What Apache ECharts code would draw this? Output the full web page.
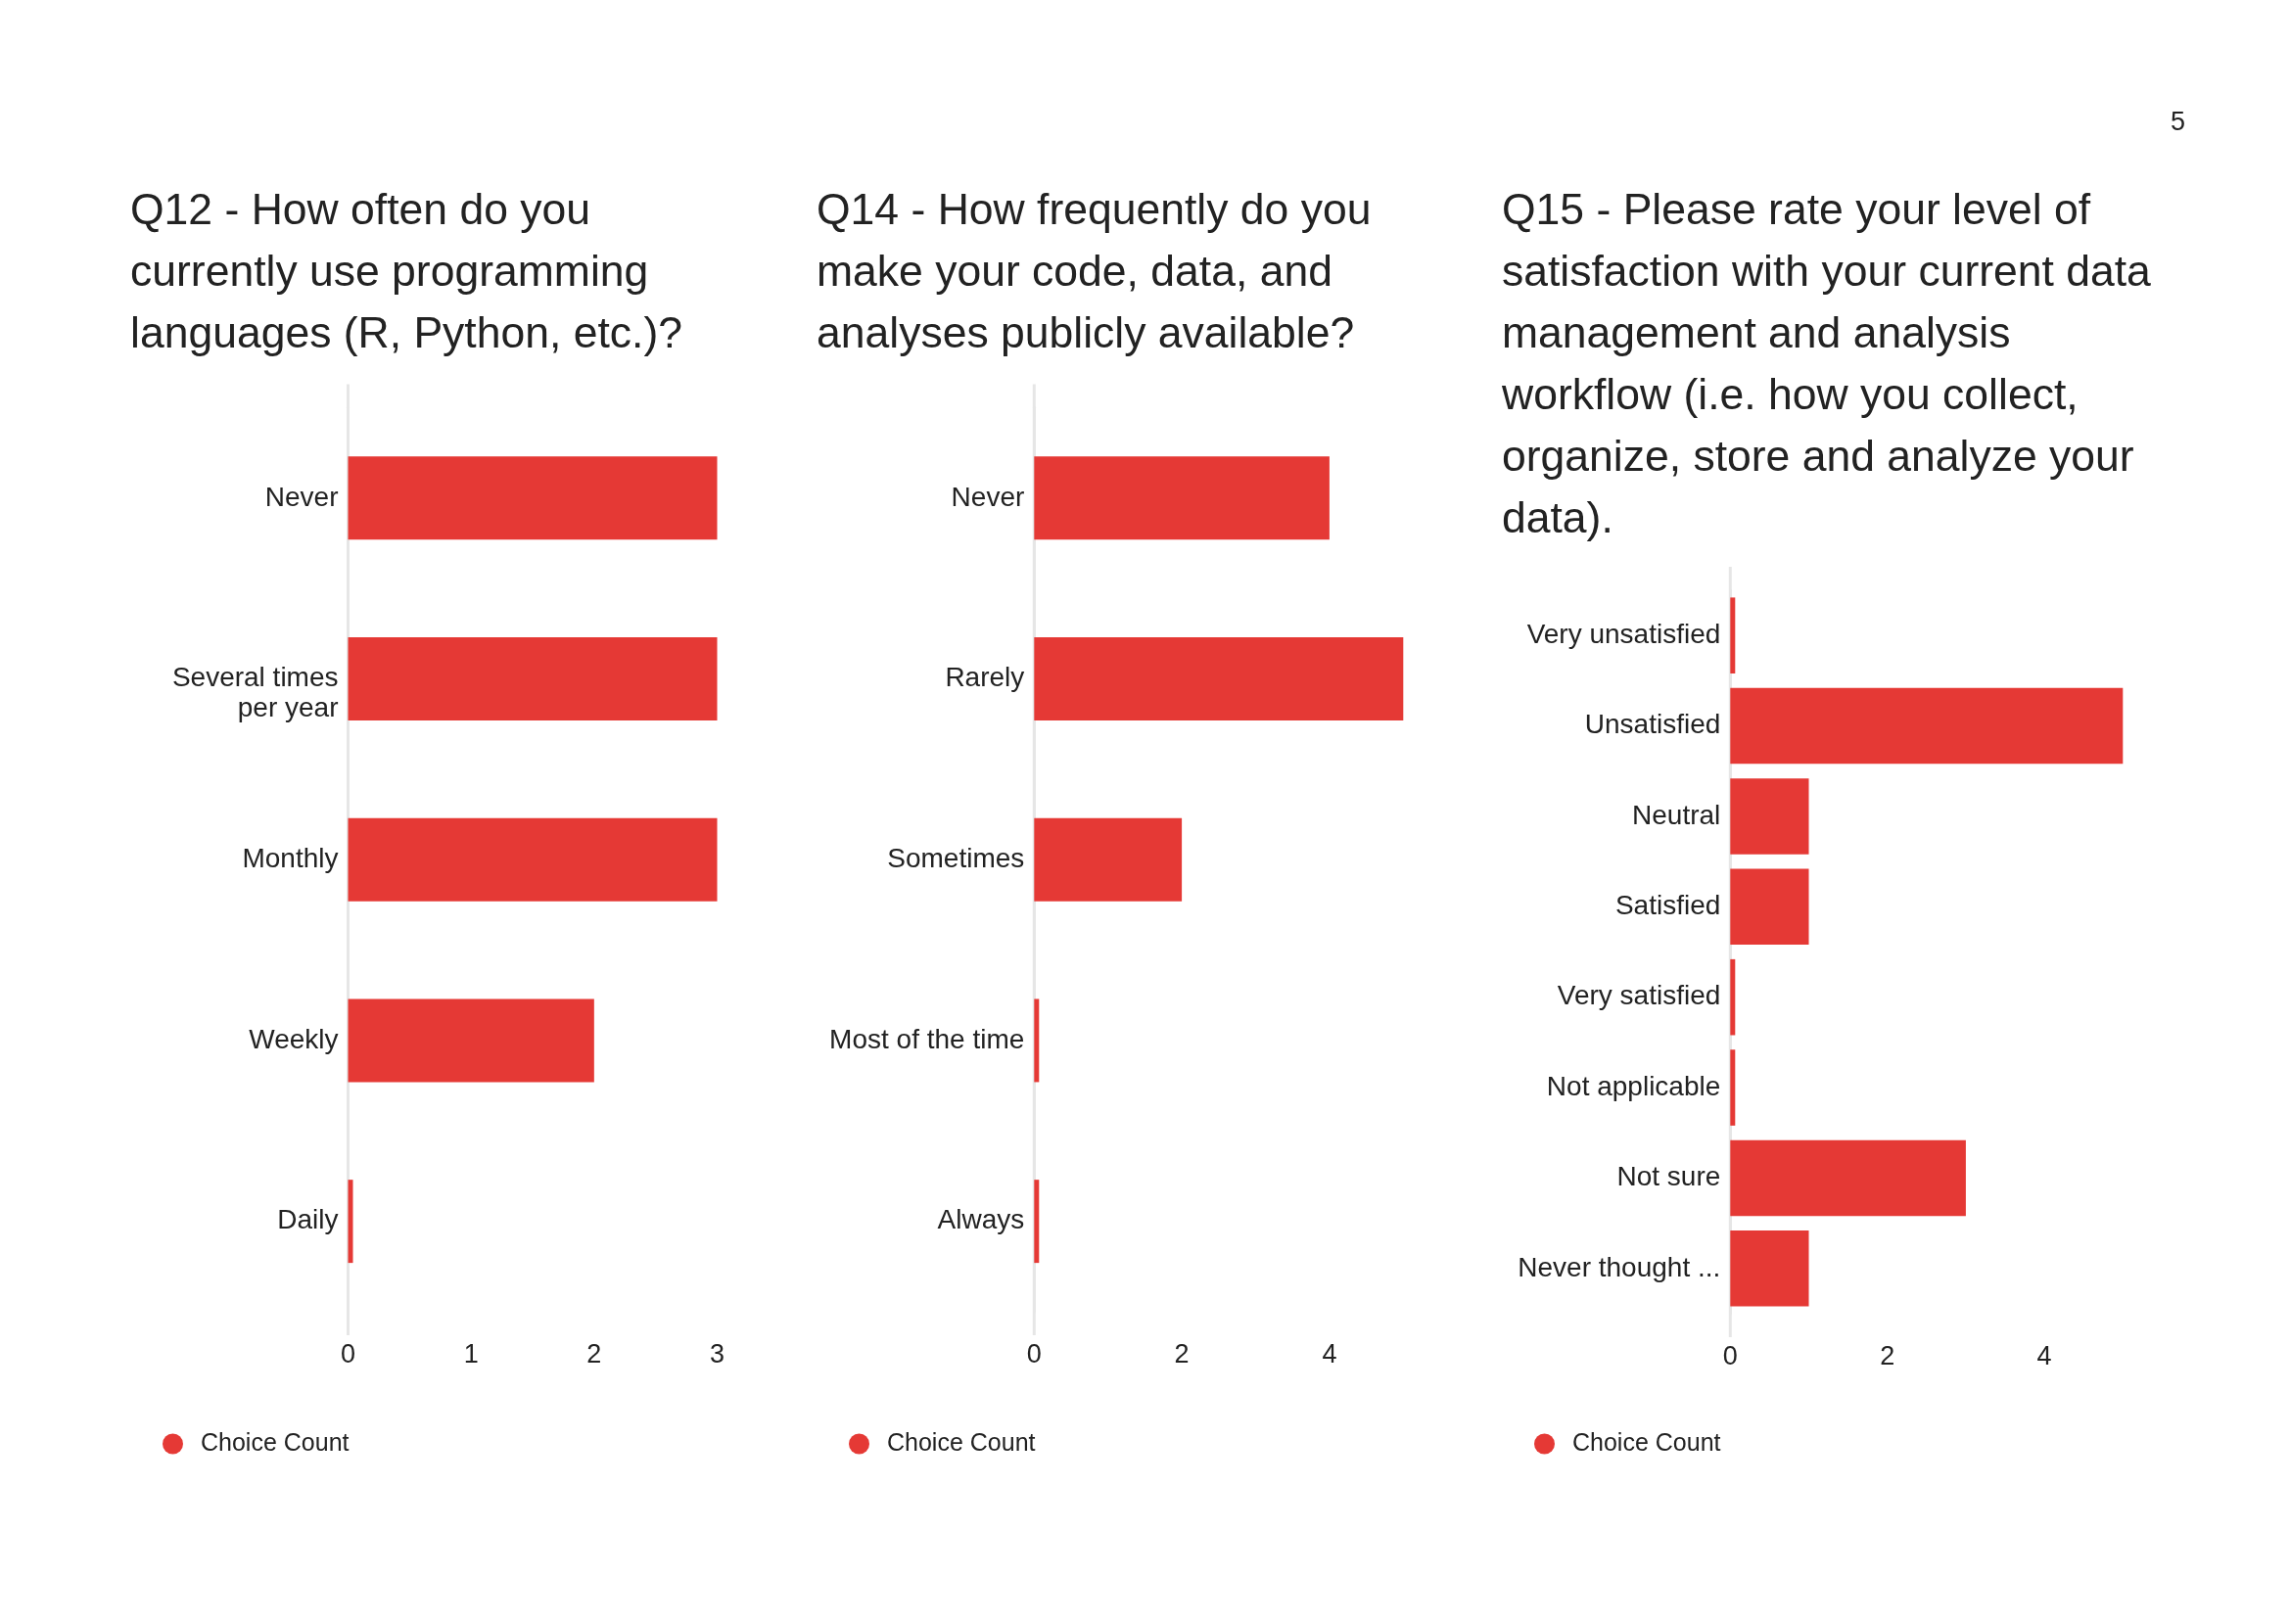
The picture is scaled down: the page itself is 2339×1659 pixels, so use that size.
<!DOCTYPE html>
<html>
<head>
<meta charset="utf-8">
<script src="https://cdn.jsdelivr.net/npm/echarts@6/dist/echarts.min.js"></script>
<style>
html,body{margin:0;padding:0;background:#fff;}
#chart{width:2339px;height:1659px;}
</style>
</head>
<body>
<div id="chart"></div>
<script>
// ---------- data ----------
const pageNumber = '5';
const seriesName = 'Choice Count';

const q12Title = 'Q12 - How often do you\ncurrently use programming\nlanguages (R, Python, etc.)?';
const q12Categories = ['Never', 'Several times per year', 'Monthly', 'Weekly', 'Daily'];
const q12Counts = [3, 3, 3, 2, 0];
const q12AxisMax = 3;
const q12AxisStep = 1;

const q14Title = 'Q14 - How frequently do you\nmake your code, data, and\nanalyses publicly available?';
const q14Categories = ['Never', 'Rarely', 'Sometimes', 'Most of the time', 'Always'];
const q14Counts = [4, 5, 2, 0, 0];
const q14AxisMax = 5;
const q14AxisStep = 2;

const q15Title = 'Q15 - Please rate your level of\nsatisfaction with your current data\nmanagement and analysis\nworkflow (i.e. how you collect,\norganize, store and analyze your\ndata).';
const q15Categories = ['Very unsatisfied', 'Unsatisfied', 'Neutral', 'Satisfied', 'Very satisfied', 'Not applicable', 'Not sure', 'Never thought ...'];
const q15Counts = [0, 5, 1, 1, 0, 0, 3, 1];
const q15AxisMax = 5;
const q15AxisStep = 2;

// ---------- style ----------
const FONT = '"Liberation Sans", Arial, Helvetica, sans-serif';
const TEXT = '#222222';
const BAR = '#e53935';
const AXIS = '#e6e6e6';

// greedy word wrap; wrapped labels keep their first line on the bar centre
function wrapLabel(text, maxChars) {
  const words = text.split(' ');
  const lines = [];
  let cur = '';
  words.forEach(w => {
    const next = cur ? cur + ' ' + w : w;
    if (next.length > maxChars && cur) { lines.push(cur); cur = w; }
    else cur = next;
  });
  if (cur) lines.push(cur);
  if (lines.length === 2) return '\n' + lines.join('\n');
  return lines.join('\n');
}

const panels = [
  {title: q12Title, cats: q12Categories, vals: q12Counts, max: q12AxisMax, step: q12AxisStep,
   titleLeft: 133, grid: {left: 355.5, top: 416.5, width: 377, height: 923.5}, gap: '54%', wrap: 14, legendLeft: 166},
  {title: q14Title, cats: q14Categories, vals: q14Counts, max: q14AxisMax, step: q14AxisStep,
   titleLeft: 834, grid: {left: 1056.3, top: 416.5, width: 377, height: 923.5}, gap: '54%', wrap: 30, legendLeft: 867},
  {title: q15Title, cats: q15Categories, vals: q15Counts, max: q15AxisMax, step: q15AxisStep,
   titleLeft: 1534, grid: {left: 1767.3, top: 603, width: 401, height: 739}, gap: '16%', wrap: 30, legendLeft: 1567}
];

const titles = [], grids = [], xAxes = [], yAxes = [], series = [], legends = [];
panels.forEach((p, i) => {
  titles.push({
    text: p.title, left: p.titleLeft, top: 185, padding: 0,
    textStyle: {fontFamily: FONT, fontSize: 44.5, fontWeight: 'normal', color: TEXT, lineHeight: 63}
  });
  grids.push(Object.assign({containLabel: false}, p.grid));
  xAxes.push({
    type: 'value', gridIndex: i, min: 0, max: p.max, interval: p.step,
    axisLine: {show: false}, axisTick: {show: false}, splitLine: {show: false},
    axisLabel: {fontFamily: FONT, fontSize: 27, color: TEXT, lineHeight: 30, margin: 29.5,
                showMaxLabel: p.max % p.step === 0}
  });
  yAxes.push({
    type: 'category', gridIndex: i, inverse: true,
    data: p.cats,
    axisLine: {show: true, lineStyle: {color: AXIS, width: 3}},
    axisTick: {show: false}, splitLine: {show: false},
    axisLabel: {interval: 0, fontFamily: FONT, fontSize: 28, color: TEXT, margin: 10,
                lineHeight: 31, align: 'right', padding: [9, 0, 0, 0],
                formatter: v => wrapLabel(v, p.wrap)}
  });
  series.push({
    type: 'bar', name: seriesName, xAxisIndex: i, yAxisIndex: i,
    data: p.vals, barCategoryGap: p.gap, barMinHeight: 5,
    itemStyle: {color: BAR}, emphasis: {disabled: true}, animation: false
  });
  legends.push({
    data: [seriesName], left: p.legendLeft, top: 1462.5, padding: 0,
    icon: 'circle', itemWidth: 21, itemHeight: 21, selectedMode: false,
    textStyle: {fontFamily: FONT, fontSize: 25, color: TEXT, padding: [0, 0, 0, 13]}
  });
});

titles.push({
  text: pageNumber, left: 2217, top: 111, padding: 0,
  textStyle: {fontFamily: FONT, fontSize: 27, fontWeight: 'normal', color: TEXT, lineHeight: 30}
});

const chart = echarts.init(document.getElementById('chart'), null, {renderer: 'canvas'});
chart.setOption({
  backgroundColor: '#ffffff',
  animation: false,
  title: titles,
  grid: grids,
  xAxis: xAxes,
  yAxis: yAxes,
  legend: legends,
  series: series
});

// extend each vertical axis line slightly beyond the plot, as in the reference
const ext = 24;
const graphics = panels.map((p, i) => {
  const x = chart.convertToPixel({xAxisIndex: i}, 0);
  return {
    type: 'line', silent: true, z: 1,
    shape: {x1: x, y1: p.grid.top - ext, x2: x, y2: p.grid.top + p.grid.height + ext},
    style: {stroke: AXIS, lineWidth: 3}
  };
});
chart.setOption({graphic: graphics});
</script>
</body>
</html>
